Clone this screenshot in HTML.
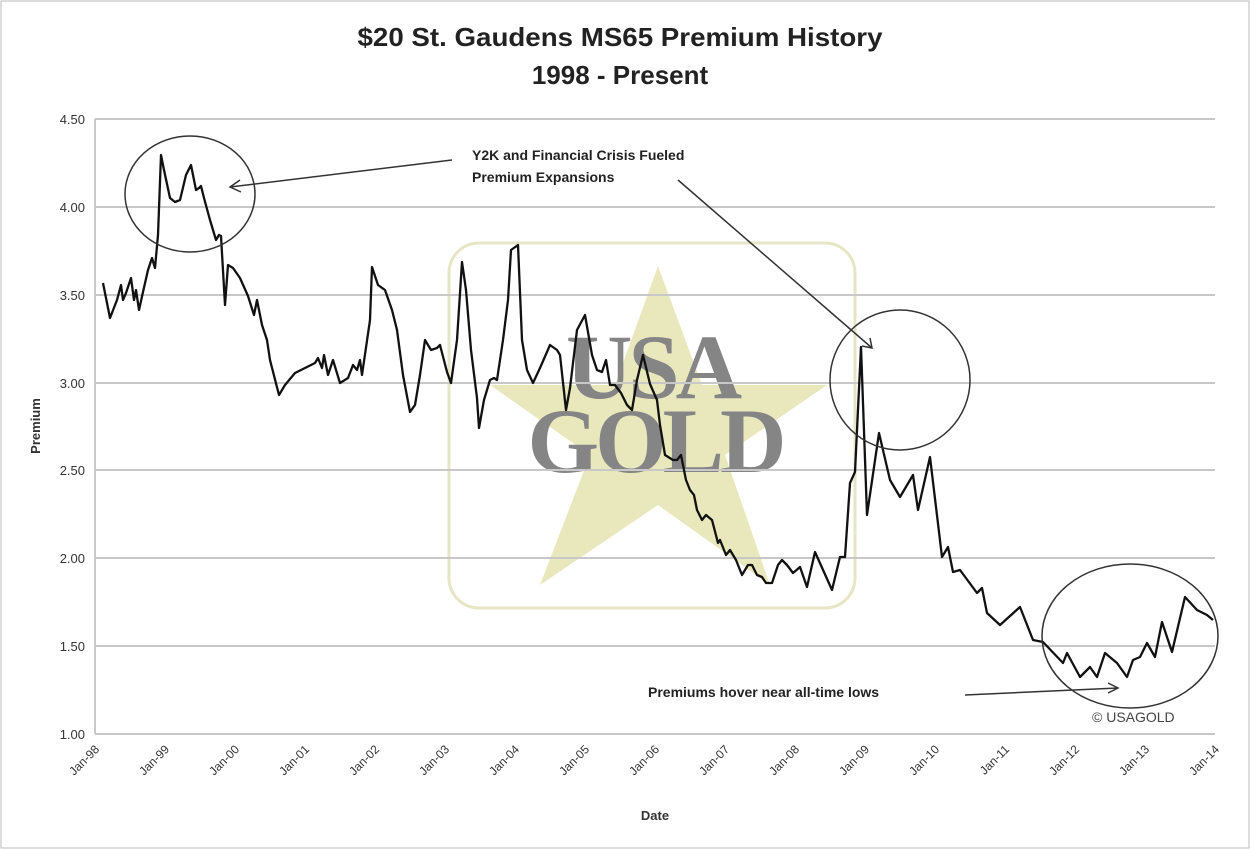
<!DOCTYPE html>
<html><head><meta charset="utf-8"><style>body{margin:0;background:#fff}svg{display:block}</style></head><body>
<svg width="1250" height="849" viewBox="0 0 1250 849" xmlns="http://www.w3.org/2000/svg" font-family="Liberation Sans, sans-serif">
<rect x="0" y="0" width="1250" height="849" fill="#fff"/>
<rect x="1" y="1" width="1248" height="847" fill="none" stroke="#bbb" stroke-width="1"/>
<text x="620" y="46" font-size="26" font-weight="bold" text-anchor="middle" fill="#222" textLength="525" lengthAdjust="spacingAndGlyphs">$20 St. Gaudens MS65 Premium History</text>
<text x="620" y="84" font-size="26" font-weight="bold" text-anchor="middle" fill="#222">1998 - Present</text>
<rect x="449" y="243" width="406" height="365" rx="30" fill="none" stroke="#e6e6c4" stroke-width="3"/>
<polygon points="658,266 702,385 827,385 725,455 770,585 658,505 540,585 590,455 490,385 615,385" fill="#e9e8bd"/>
<text x="652" y="398" font-size="92" font-weight="bold" font-family="Liberation Serif, serif" fill="#858585" text-anchor="middle" letter-spacing="-4">USA</text>
<text x="655" y="472" font-size="92" font-weight="bold" font-family="Liberation Serif, serif" fill="#858585" text-anchor="middle" letter-spacing="-4">GOLD</text>
<g stroke="#c8c8c8" stroke-width="2">
<line x1="95" y1="119" x2="1215" y2="119"/><line x1="95" y1="207" x2="1215" y2="207"/>
<line x1="95" y1="295" x2="1215" y2="295"/><line x1="95" y1="383" x2="1215" y2="383"/>
<line x1="95" y1="470" x2="1215" y2="470"/><line x1="95" y1="558" x2="1215" y2="558"/>
<line x1="95" y1="646" x2="1215" y2="646"/><line x1="95" y1="734" x2="1215" y2="734"/>
<line x1="95" y1="119" x2="95" y2="734"/>
</g>
<g font-size="13" fill="#333" text-anchor="end">
<text x="85" y="124">4.50</text><text x="85" y="212">4.00</text><text x="85" y="300">3.50</text><text x="85" y="388">3.00</text><text x="85" y="475">2.50</text><text x="85" y="563">2.00</text><text x="85" y="651">1.50</text><text x="85" y="739">1.00</text>
</g>
<text x="40" y="426" font-size="13" font-weight="bold" fill="#333" text-anchor="middle" transform="rotate(-90 40 426)">Premium</text>
<text x="655" y="820" font-size="13" font-weight="bold" fill="#333" text-anchor="middle">Date</text>
<g font-size="12" fill="#333" text-anchor="end">
<text transform="translate(100,750) rotate(-45)">Jan-98</text><text transform="translate(170,750) rotate(-45)">Jan-99</text><text transform="translate(240,750) rotate(-45)">Jan-00</text><text transform="translate(310,750) rotate(-45)">Jan-01</text><text transform="translate(380,750) rotate(-45)">Jan-02</text><text transform="translate(450,750) rotate(-45)">Jan-03</text><text transform="translate(520,750) rotate(-45)">Jan-04</text><text transform="translate(590,750) rotate(-45)">Jan-05</text><text transform="translate(660,750) rotate(-45)">Jan-06</text><text transform="translate(730,750) rotate(-45)">Jan-07</text><text transform="translate(800,750) rotate(-45)">Jan-08</text><text transform="translate(870,750) rotate(-45)">Jan-09</text><text transform="translate(940,750) rotate(-45)">Jan-10</text><text transform="translate(1010,750) rotate(-45)">Jan-11</text><text transform="translate(1080,750) rotate(-45)">Jan-12</text><text transform="translate(1150,750) rotate(-45)">Jan-13</text><text transform="translate(1220,750) rotate(-45)">Jan-14</text>
</g>
<polyline fill="none" stroke="#111" stroke-width="2.3" stroke-linejoin="round" points="103,283 110,318 117,300 121,285 123,300 126,293 131,278 134,300 136,290 139,310 143,292 148,270 152,258 155,268 158,235 161,155 164,170 170,198 175,202 180,200 186,175 191,165 196,190 199,188 201,186 204,198 210,220 216,240 219,235 221,236 225,305 228,265 233,268 240,278 248,296 254,315 257,300 262,325 267,340 270,360 279,395 285,385 295,373 305,368 315,363 318,358 322,368 324,355 328,375 333,360 340,383 348,378 353,365 357,370 360,360 362,375 370,320 372,267 378,285 385,290 392,310 397,330 403,375 410,412 415,405 420,375 425,340 431,350 437,348 440,345 447,372 451,383 457,340 462,262 466,290 471,350 477,398 479,428 484,400 490,380 494,378 497,380 503,340 508,300 511,250 518,245 522,340 527,370 533,383 540,368 550,345 557,350 560,355 566,410 570,388 577,330 585,315 592,355 597,370 602,372 606,360 610,385 615,385 621,393 627,405 632,410 637,380 643,355 650,384 657,400 660,425 665,455 673,460 677,460 681,455 686,480 690,490 694,495 697,510 702,520 706,515 712,520 718,543 720,540 726,555 730,550 736,560 742,575 745,570 748,565 752,565 757,575 762,577 766,583 772,583 778,565 782,560 787,565 793,573 800,567 807,587 815,552 832,590 840,557 845,557 850,483 855,472 861,347 867,515 879,433 890,480 900,497 913,475 918,510 930,457 942,557 948,547 953,572 960,570 977,593 982,588 987,613 1000,625 1020,607 1033,640 1043,642 1063,663 1067,653 1080,677 1090,667 1097,677 1105,653 1117,663 1127,677 1133,660 1140,657 1147,643 1155,657 1162,622 1172,652 1185,597 1197,610 1207,615 1213,620"/>
<g fill="none" stroke="#333" stroke-width="1.5">
<ellipse cx="190" cy="194" rx="65" ry="58"/>
<ellipse cx="900" cy="380" rx="70" ry="70"/>
<ellipse cx="1130" cy="636" rx="88" ry="72"/>
<line x1="452" y1="160" x2="230" y2="187"/><polyline points="240,180 230,187 241,192"/>
<line x1="678" y1="180" x2="872" y2="348"/><polyline points="862,346 872,348 870,338"/>
<line x1="965" y1="695" x2="1118" y2="688"/><polyline points="1108,683 1118,688 1108,693"/>
</g>
<g font-size="14" font-weight="bold" fill="#222">
<text x="472" y="160">Y2K and Financial Crisis Fueled</text>
<text x="472" y="182">Premium Expansions</text>
<text x="648" y="697">Premiums hover near all-time lows</text>
</g>
<text x="1092" y="722" font-size="14" fill="#444">© USAGOLD</text>
</svg>
</body></html>
